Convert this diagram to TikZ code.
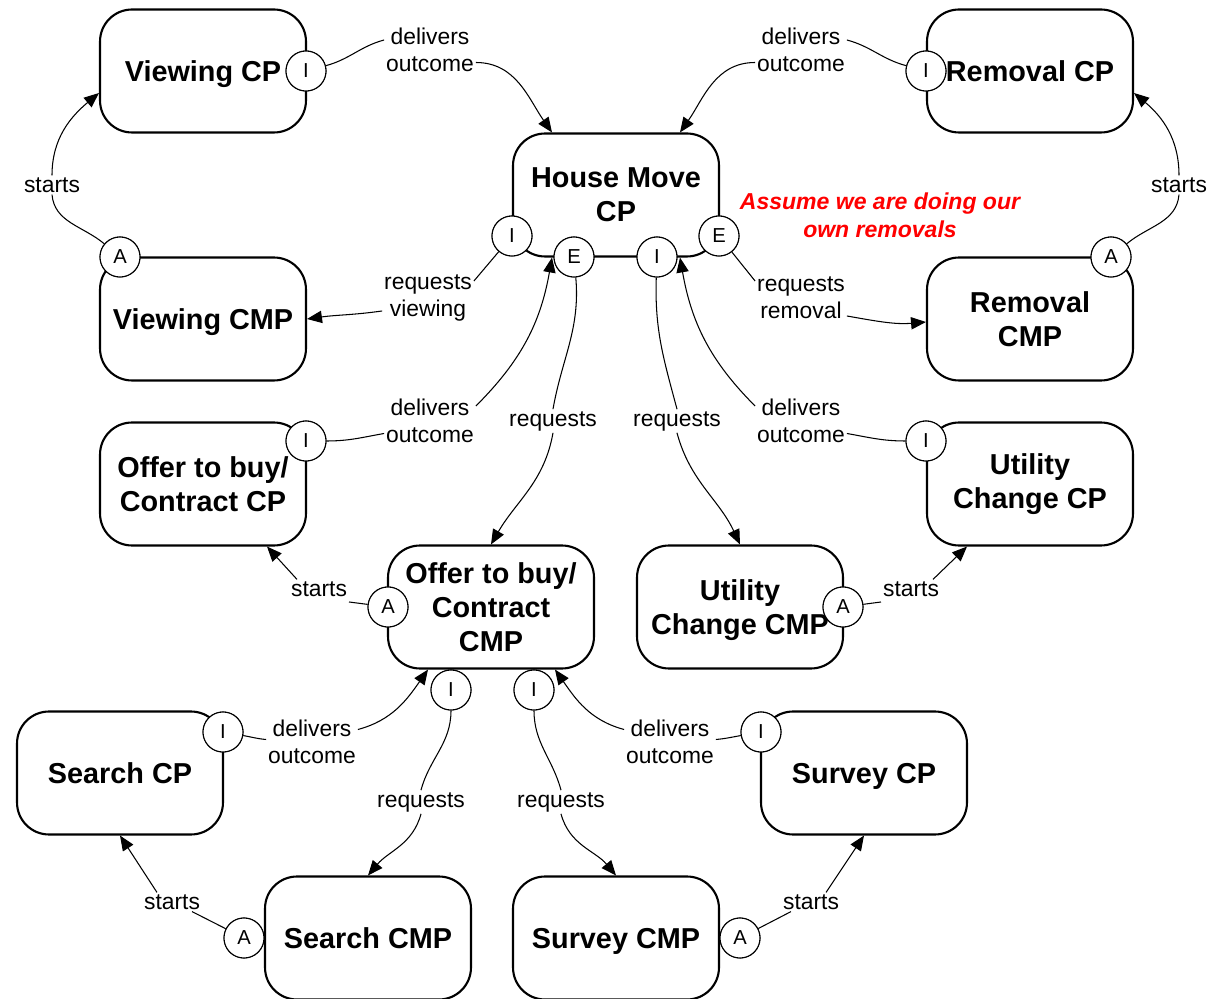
\documentclass[tikz,border=0pt]{standalone}
\usepackage{fontspec}
\setmainfont{Liberation Sans}
\usetikzlibrary{arrows.meta,calc}

\begin{document}
\begin{tikzpicture}[x=0.02cm,y=0.02cm,
  proc/.style={draw,line width=1.2pt,rounded corners=0.64cm,minimum width=4.12cm,
    minimum height=2.46cm,align=center,inner sep=0pt,
    font=\bfseries\fontsize{16.4}{19.3}\selectfont},
  flat/.style={text depth=0pt},
  port/.style={draw,circle,fill=white,line width=0.6pt,minimum size=0.8cm,
    inner sep=0pt,font=\fontsize{11.5}{13}\selectfont},
  lbl/.style={align=center,inner sep=1pt,font=\fontsize{13}{15.6}\selectfont},
  link/.style={line width=0.6pt},
  arr/.style={link,-{Triangle[length=8.5pt,width=7pt]}}
]
\useasboundingbox (0,0) rectangle (1211,-999);

% processes
\node[proc,flat] (vcp)   at (203,-71)  {Viewing CP};
\node[proc] (rcp)   at (1030,-71) {Removal CP};
\node[proc] (hm)    at (616,-195) {House Move\\CP};
\node[proc,flat] (vcmp)  at (203,-319) {Viewing CMP};
\node[proc] (rcmp)  at (1030,-319) {Removal\\CMP};
\node[proc] (ocp)   at (203,-484) {Offer to buy/\\Contract CP};
\node[proc] (ucp)   at (1030,-484) {Utility\\Change CP};
\node[proc] (ocmp)  at (491,-607) {Offer to buy/\\Contract\\CMP};
\node[proc,flat] (ucmp)  at (740,-607) {Utility\\Change CMP};
\node[proc] (scp)   at (120,-773) {Search CP};
\node[proc,flat] (svcp)  at (864,-773) {Survey CP};
\node[proc] (scmp)  at (368,-938) {Search CMP};
\node[proc,flat] (svcmp) at (616,-938) {Survey CMP};

% note
\node[text=red,align=center,font=\bfseries\itshape\fontsize{13.1}{15.9}\selectfont]
  (note) at (880,-215) {Assume we are doing our\\own removals};

% connector labels
\node[lbl] (l1)  at (430,-50)  {delivers\\outcome};
\node[lbl] (l2)  at (801,-50)  {delivers\\outcome};
\node[lbl] (l3)  at (52,-185)  {starts};
\node[lbl] (l4)  at (1179,-185) {starts};
\node[lbl] (l5)  at (428,-298) {requests\\viewing};
\node[lbl] (l6)  at (801,-298) {requests\\removal};
\node[lbl] (l7)  at (430,-421) {delivers\\outcome};
\node[lbl] (l8)  at (553,-421) {requests};
\node[lbl] (l9)  at (677,-421) {requests};
\node[lbl] (l10) at (801,-421) {delivers\\outcome};
\node[lbl] (l11) at (319,-589) {starts};
\node[lbl] (l12) at (911,-589) {starts};
\node[lbl] (l13) at (312,-742) {delivers\\outcome};
\node[lbl] (l14) at (421,-802) {requests};
\node[lbl] (l15) at (561,-802) {requests};
\node[lbl] (l16) at (670,-742) {delivers\\outcome};
\node[lbl] (l17) at (172,-902) {starts};
\node[lbl] (l18) at (811,-902) {starts};

% interface ports
\node[port] (vcpI)   at (306,-71)   {I};
\node[port] (rcpI)   at (926,-71)   {I};
\node[port] (hmI1)   at (512,-236)  {I};
\node[port] (hmE1)   at (574,-257)  {E};
\node[port] (hmI2)   at (657,-257)  {I};
\node[port] (hmE2)   at (719,-236)  {E};
\node[port] (vcmpA)  at (120,-257)  {A};
\node[port] (rcmpA)  at (1111,-257) {A};
\node[port] (ocpI)   at (306,-441)  {I};
\node[port] (ucpI)   at (926,-441)  {I};
\node[port] (ocmpA)  at (388,-607)  {A};
\node[port] (ocmpI1) at (451,-690)  {I};
\node[port] (ocmpI2) at (534,-690)  {I};
\node[port] (ucmpA)  at (843,-607)  {A};
\node[port] (scpI)   at (223,-732)  {I};
\node[port] (svcpI)  at (761,-732)  {I};
\node[port] (scmpA)  at (244,-938)  {A};
\node[port] (svcmpA) at (740,-938)  {A};

% connectors
\draw[link] (vcpI) to[out=15,in=195] ([yshift=0.2cm]l1.west);
\draw[arr] ([yshift=-0.25cm]l1.east) to[out=0,in=125] ([xshift=-1.28cm]hm.north);

\draw[link] (rcpI) to[out=165,in=-15] ([yshift=0.2cm]l2.east);
\draw[arr] ([yshift=-0.25cm]l2.west) to[out=180,in=55] ([xshift=1.28cm]hm.north);

\draw[link] (vcmpA) to[out=140,in=-85] (l3.south);
\draw[arr] (l3.north) to[out=90,in=220] ([yshift=-0.44cm]vcp.west);

\draw[link] (rcmpA) to[out=40,in=-95] (l4.south);
\draw[arr] (l4.north) to[out=90,in=-40] ([yshift=-0.44cm]rcp.east);

\draw[link] (hmI1) -- ([yshift=0.34cm]l5.east);
\draw[arr] ([yshift=-0.26cm]l5.west) to[out=188,in=8] (vcmp.east);

\draw[link] (hmE2) -- ([yshift=0.34cm]l6.west);
\draw[arr] ([yshift=-0.36cm]l6.east) to[out=-10,in=185] ([yshift=-0.06cm]rcmp.west);

\draw[link] (ocpI) to[out=0,in=190] ([yshift=-0.25cm]l7.west);
\draw[arr] ([yshift=0.3cm]l7.east) to[out=45,in=-100] ([xshift=-1.28cm]hm.south);

\draw[link] (hmE1) to[out=-85,in=80] (l8.north);
\draw[arr] (l8.south) to[out=-100,in=60] (ocmp.north);

\draw[link] (hmI2) to[out=-92,in=105] (l9.north);
\draw[arr] (l9.south) to[out=-75,in=115] (ucmp.north);

\draw[link] (ucpI) to[out=180,in=-10] ([yshift=-0.25cm]l10.east);
\draw[arr] ([yshift=0.3cm]l10.west) to[out=135,in=-80] ([xshift=1.28cm]hm.south);

\draw[link] (ocmpA) -- ([yshift=-0.26cm]l11.east);
\draw[arr] ([xshift=-0.44cm]l11.north) -- ([xshift=1.28cm]ocp.south);

\draw[link] (ucmpA) -- ([yshift=-0.26cm]l12.west);
\draw[arr] ([xshift=0.44cm]l12.north) -- ([xshift=-1.26cm]ucp.south);

\draw[link] (scpI) to[out=-10,in=175] ([yshift=0.05cm]l13.west);
\draw[arr] ([yshift=0.25cm]l13.east) to[out=15,in=-125] ([xshift=-1.26cm]ocmp.south);

\draw[link] (ocmpI1) to[out=-90,in=75] (l14.north);
\draw[arr] (l14.south) to[out=-105,in=50] (scmp.north);

\draw[link] (ocmpI2) to[out=-90,in=105] (l15.north);
\draw[arr] (l15.south) to[out=-75,in=130] (svcmp.north);

\draw[link] (svcpI) to[out=190,in=5] ([yshift=0.05cm]l16.east);
\draw[arr] ([yshift=0.25cm]l16.west) to[out=165,in=-55] ([xshift=1.28cm]ocmp.south);

\draw[link] (scmpA) -- ([xshift=-0.2cm]l17.south east);
\draw[arr] ([xshift=0.3cm]l17.north west) -- (scp.south);

\draw[link] (svcmpA) -- ([xshift=0.2cm]l18.south west);
\draw[arr] ([xshift=-0.3cm]l18.north east) -- (svcp.south);

% ports drawn again so that they sit above the connector ends
\foreach \p/\t in {vcpI/I,rcpI/I,hmI1/I,hmE1/E,hmI2/I,hmE2/E,vcmpA/A,rcmpA/A,
  ocpI/I,ucpI/I,ocmpA/A,ocmpI1/I,ocmpI2/I,ucmpA/A,scpI/I,svcpI/I,scmpA/A,svcmpA/A}
  \node[port] at (\p) {\t};
\end{tikzpicture}
\end{document}
